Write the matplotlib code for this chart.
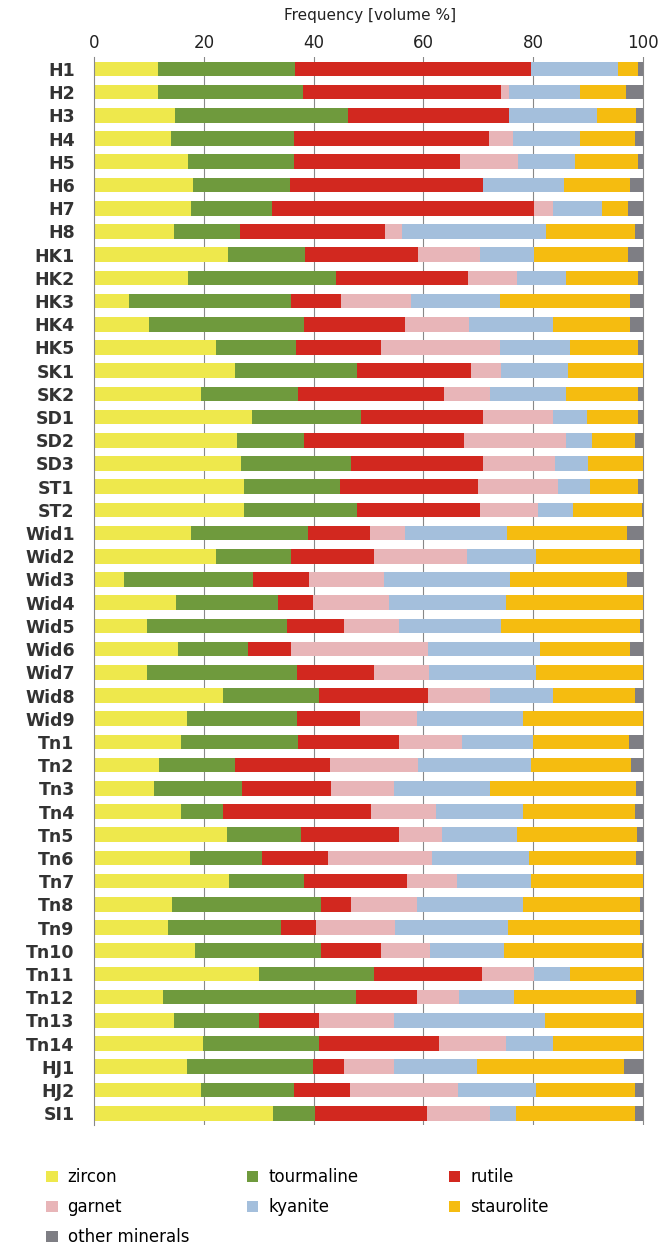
import matplotlib
matplotlib.use("Agg")
import matplotlib.pyplot as plt
import numpy as np

samples = ["H1", "H2", "H3", "H4", "H5", "H6", "H7", "H8",
           "HK1", "HK2", "HK3", "HK4", "HK5", "SK1", "SK2",
           "SD1", "SD2", "SD3", "ST1", "ST2",
           "Wid1", "Wid2", "Wid3", "Wid4", "Wid5", "Wid6", "Wid7", "Wid8", "Wid9",
           "Tn1", "Tn2", "Tn3", "Tn4", "Tn5", "Tn6", "Tn7", "Tn8", "Tn9", "Tn10",
           "Tn11", "Tn12", "Tn13", "Tn14", "HJ1", "HJ2", "SI1"]

zircon = [11.7, 11.7, 14.7, 14.0, 17.2, 18.1, 17.7, 14.6,
          24.4, 17.2, 6.4, 10.0, 22.2, 25.7, 19.5,
          28.8, 26.0, 26.8, 27.3, 27.3,
          17.6, 22.2, 5.4, 15.0, 9.6, 15.3, 9.6, 23.4, 16.9,
          15.8, 11.9, 10.9, 15.8, 24.3, 17.5, 24.5, 14.2, 13.4, 18.4,
          30.1, 12.6, 14.5, 19.8, 16.9, 19.5, 32.6]
tourmaline = [24.9, 26.3, 31.5, 22.4, 19.2, 17.6, 14.7, 11.9,
              14.1, 26.8, 29.4, 28.3, 14.6, 22.2, 17.7,
              19.9, 12.3, 20.1, 17.6, 20.6,
              21.3, 13.6, 23.5, 18.5, 25.5, 12.7, 27.4, 17.6, 20.1,
              21.4, 13.8, 16.1, 7.6, 13.4, 13.1, 13.8, 27.1, 20.7, 22.9,
              20.9, 35.1, 15.6, 21.2, 22.9, 16.9, 7.7]
rutile = [43.0, 36.1, 29.4, 35.6, 30.3, 35.1, 47.8, 26.6,
          20.5, 24.1, 9.2, 18.4, 15.5, 20.7, 26.6,
          22.2, 29.1, 24.0, 25.0, 22.4,
          11.3, 15.2, 10.2, 6.3, 10.5, 7.8, 14.0, 19.9, 11.5,
          18.4, 17.2, 16.1, 27.0, 17.9, 12.1, 18.8, 5.5, 6.3, 11.0,
          19.7, 11.1, 10.9, 21.9, 5.8, 10.2, 20.4]
garnet = [0.0, 1.5, 0.0, 4.3, 10.6, 0.0, 3.5, 3.0,
          11.3, 8.9, 12.7, 11.7, 21.6, 5.5, 8.3,
          12.8, 18.6, 13.0, 14.6, 10.6,
          6.5, 17.0, 13.7, 14.0, 10.0, 25.1, 10.1, 11.3, 10.3,
          11.5, 16.1, 11.5, 11.9, 7.8, 18.8, 9.0, 12.0, 14.4, 9.0,
          9.4, 7.7, 13.7, 12.2, 9.0, 19.7, 11.5]
kyanite = [15.8, 12.9, 16.0, 12.2, 10.4, 14.8, 8.8, 26.3,
           9.8, 9.0, 16.2, 15.3, 12.9, 12.3, 13.9,
           6.1, 4.8, 6.1, 5.9, 6.4,
           18.6, 12.6, 23.0, 21.3, 18.5, 20.3, 19.5, 11.5, 19.3,
           12.8, 20.6, 17.5, 15.8, 13.6, 17.8, 13.5, 19.3, 20.7, 13.4,
           6.7, 10.1, 27.5, 8.6, 15.2, 14.3, 4.6]
staurolite = [3.8, 8.4, 7.2, 10.1, 11.5, 12.1, 4.8, 16.2,
              17.2, 13.2, 23.8, 14.0, 12.4, 13.6, 13.2,
              9.4, 7.8, 10.0, 8.8, 12.5,
              21.8, 18.8, 21.3, 24.9, 25.3, 16.5, 19.4, 14.9, 21.9,
              17.6, 18.3, 26.7, 20.4, 21.9, 19.5, 20.4, 21.3, 24.0, 25.1,
              13.2, 22.2, 17.8, 16.3, 26.7, 18.0, 21.7]
other = [0.8, 3.1, 1.2, 1.4, 0.8, 2.3, 2.7, 1.4,
         2.7, 0.8, 2.3, 2.3, 0.8, 0.0, 0.8,
         0.8, 1.4, 0.0, 0.8, 0.2,
         2.9, 0.6, 2.9, 0.0, 0.6, 2.3, 0.0, 1.4, 0.0,
         2.5, 2.1, 1.2, 1.5, 1.1, 1.2, 0.0, 0.6, 0.5, 0.2,
         0.0, 1.2, 0.0, 0.0, 3.5, 1.4, 1.5]

minerals = ["zircon", "tourmaline", "rutile", "garnet", "kyanite", "staurolite", "other minerals"]
colors = ["#EEE84C", "#6F9A3D", "#D2281F", "#E8B5B8", "#A4BFDC", "#F5BC10", "#7E7E84"]
series = [zircon, tourmaline, rutile, garnet, kyanite, staurolite, other]

fig = plt.figure(figsize=(6.58, 12.47), dpi=100)
ax = fig.add_axes([0.143, 0.098, 0.839, 0.856])

y = np.arange(len(samples))
left = np.zeros(len(samples))
handles = []
for name, col, vals in zip(minerals, colors, series):
    v = np.array(vals)
    h = ax.barh(y, v, left=left, height=0.63, color=col, label=name, zorder=2)
    handles.append(h)
    left += v

ax.set_ylim(len(samples) - 0.5, -0.5)
ax.set_xlim(0, 100.6)
ax.set_yticks(y)
ax.set_yticklabels(samples, fontsize=12.5, fontweight="bold", color="#333333")
ax.xaxis.tick_top()
ax.xaxis.set_label_position("top")
ax.set_xticks([0, 20, 40, 60, 80, 100])
ax.tick_params(axis="x", labelsize=12, length=0, pad=4, colors="#222222")
ax.tick_params(axis="y", length=0, pad=14)
ax.set_xlabel("Frequency [volume %]", fontsize=11, labelpad=10, color="#222222")
for s in ["top", "right", "bottom"]:
    ax.spines[s].set_visible(False)
ax.spines["left"].set_color("#888888")
ax.spines["left"].set_linewidth(0.8)
for xv in [20, 40, 60, 80, 100]:
    ax.axvline(xv, color="#888888", lw=0.8, zorder=1)

# three single-column legends so the columns sit at even spacing
cols = [[0, 3, 6], [1, 4], [2, 5]]
xs = [0.047, 0.352, 0.659]
for idx, x0 in zip(cols, xs):
    fig.legend(handles=[handles[i] for i in idx], labels=[minerals[i] for i in idx],
               loc="upper left", bbox_to_anchor=(x0, 0.075), ncol=1, frameon=False,
               fontsize=12, handlelength=0.7, handleheight=0.7,
               handletextpad=0.6, labelspacing=0.72)

fig.savefig("out.png", dpi=100)
